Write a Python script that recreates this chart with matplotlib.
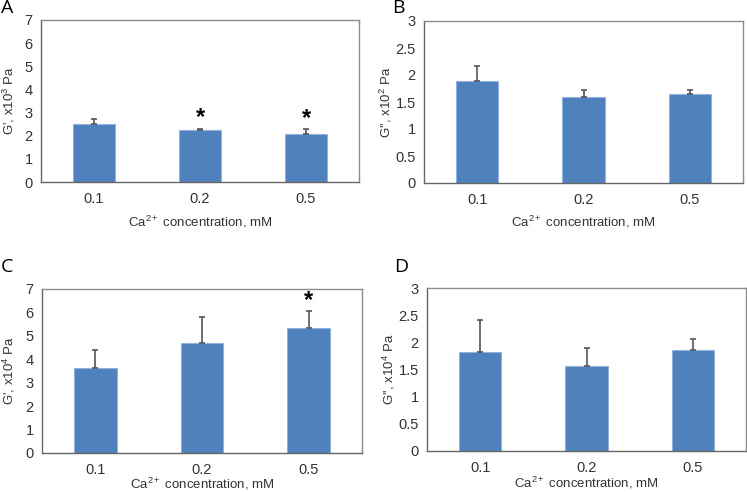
import matplotlib
matplotlib.use("Agg")
import matplotlib.pyplot as plt
import numpy as np

plt.rcParams['font.family'] = ['Liberation Sans', 'DejaVu Sans']
plt.rcParams['mathtext.fontset'] = 'custom'
plt.rcParams['mathtext.rm'] = 'Liberation Sans'
plt.rcParams['mathtext.it'] = 'Liberation Sans:italic'
plt.rcParams['mathtext.bf'] = 'Liberation Sans:bold'
plt.rcParams['mathtext.default'] = 'regular'

categories = ["0.1", "0.2", "0.5"]

a_values = [2.51, 2.24, 2.06]
a_errors = [0.22, 0.07, 0.23]
a_stars = [False, True, True]

b_values = [1.89, 1.59, 1.65]
b_errors = [0.27, 0.14, 0.07]
b_stars = [False, False, False]

c_values = [3.63, 4.69, 5.35]
c_errors = [0.78, 1.11, 0.71]
c_stars = [False, False, True]

d_values = [1.82, 1.57, 1.85]
d_errors = [0.60, 0.32, 0.22]
d_stars = [False, False, False]

a_ylabel = "G', x10$^{3}$ Pa"
b_ylabel = "G'', x10$^{2}$ Pa"
c_ylabel = "G', x10$^{4}$ Pa"
d_ylabel = "G'', x10$^{4}$ Pa"
xlabel = "Ca$^{2+}$ concentration, mM"

W, H = 747, 492
fig = plt.figure(figsize=(W / 100, H / 100), dpi=100)

def rect(l, t, r, b):
    return [l / W, 1 - b / H, (r - l) / W, (b - t) / H]

panels = [
    ("A", rect(41, 20, 359, 182), a_values, a_errors, a_stars, 7, 1, a_ylabel, (1, 8), 222, 9),
    ("B", rect(424, 21, 743, 183), b_values, b_errors, b_stars, 3, 0.5, b_ylabel, (392, 8), 222, 386),
    ("C", rect(42, 289, 362, 453), c_values, c_errors, c_stars, 7, 1, c_ylabel, (1, 267), 484, 9),
    ("D", rect(427, 288, 746, 451), d_values, d_errors, d_stars, 3, 0.5, d_ylabel, (394, 267), 483, 389),
]

bar_color = "#4F81BD"

for letter, pos, vals, errs, stars, ymax, step, ylab, lpos, xly, ylx in panels:
    ax = fig.add_axes(pos)
    x = np.arange(len(categories))
    ax.bar(x, vals, width=0.4, color=bar_color, edgecolor="#8FB3DE", linewidth=0.8, zorder=2)
    ax.errorbar(x, vals, yerr=[np.zeros(len(vals)), errs], fmt="none",
                ecolor="#555555", elinewidth=1.2, capsize=2.5, capthick=1.2, zorder=3)
    for xi, v, e, s in zip(x, vals, errs, stars):
        if s:
            ax.text(xi, v + e + ymax * 0.065, "*",
                    ha="center", va="center", fontsize=17, fontweight="bold", color="black")
    ax.set_xlim(-0.5, 2.5)
    ax.set_ylim(0, ymax)
    ticks = np.arange(0, ymax + step / 2, step)
    ax.set_yticks(ticks)
    ax.set_yticklabels([("%g" % t) for t in ticks])
    ax.set_xticks(x)
    ax.set_xticklabels(categories)
    ax.tick_params(axis="both", length=0, labelsize=10.5, colors="#333333", pad=7)
    ax.tick_params(axis="y", pad=6)
    for sp in ax.spines.values():
        sp.set_color("#8C8C8C")
        sp.set_linewidth(1.0)
    ax.spines["left"].set_color("#666666")
    ax.spines["bottom"].set_color("#666666")
    cx = (pos[0] + pos[2] / 2)
    fig.text(cx, 1 - xly / H, xlabel, ha="center", va="center", fontsize=9.5, color="#333333")
    fig.text(ylx / W, pos[1] + pos[3] / 2, ylab, ha="center", va="center", rotation=90,
             fontsize=9.5, color="#333333")
    fig.text(lpos[0] / W, 1 - lpos[1] / H, letter, ha="left", va="center", fontsize=14, color="black",
             family=["Open Sans", "DejaVu Sans"])

fig.savefig("out.png", dpi=100)
